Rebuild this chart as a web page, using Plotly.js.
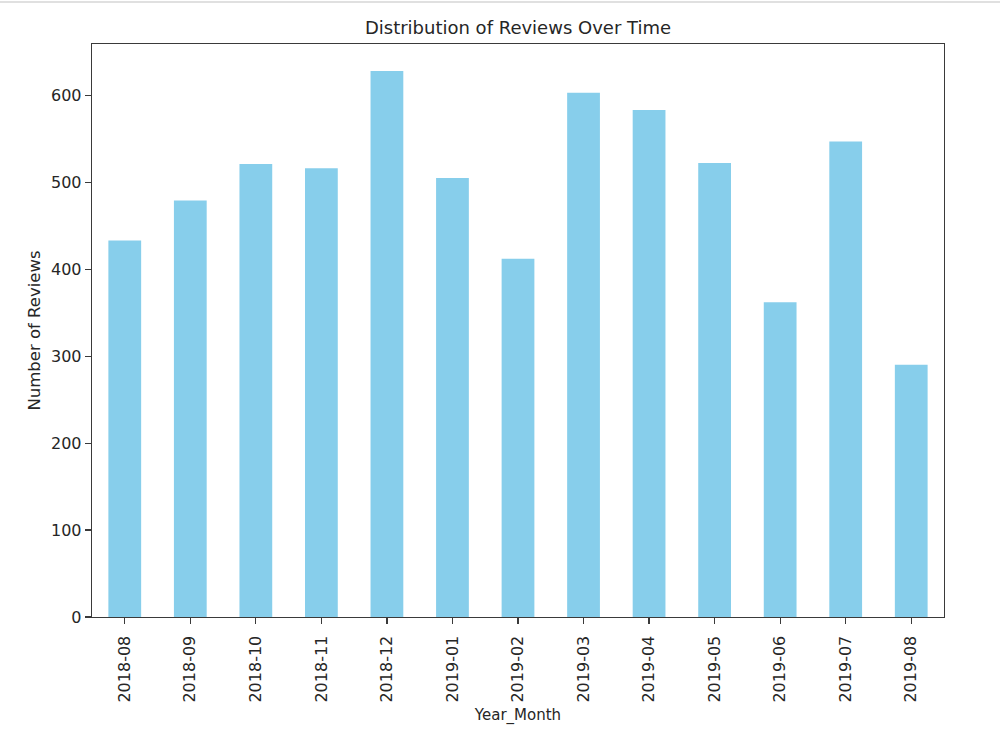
<!DOCTYPE html>
<html>
<head>
<meta charset="utf-8">
<script src="https://cdn.plot.ly/plotly-3.0.1.min.js"></script>
<style>html,body{margin:0;padding:0;background:#fff;}#chart{width:1000px;height:750px;}</style>
</head>
<body>
<div id="chart"></div>
<script>
const categories = ["2018-08","2018-09","2018-10","2018-11","2018-12","2019-01","2019-02","2019-03","2019-04","2019-05","2019-06","2019-07","2019-08"];
const reviewCounts = [433, 479, 521, 516, 628, 505, 412, 603, 583, 522, 362, 547, 290];
const yTicks = [0, 100, 200, 300, 400, 500, 600];

const font = {family: "DejaVu Sans, sans-serif", color: "#262626"};

const trace = {
  type: "bar",
  x: categories,
  y: reviewCounts,
  width: 0.5,
  marker: {color: "#87CEEB", line: {width: 0}},
  hoverinfo: "x+y"
};

const layout = {
  width: 1000, height: 750,
  margin: {l: 92, r: 56, t: 44, b: 133},
  paper_bgcolor: "#fff",
  plot_bgcolor: "#fff",
  showlegend: false,
  font: Object.assign({size: 16}, font),
  title: {
    text: "Distribution of Reviews Over Time",
    font: Object.assign({size: 18}, font),
    x: 0.5, xanchor: "center", xref: "paper",
    y: 1 - 28/750, yanchor: "middle", yref: "container"
  },
  xaxis: {
    type: "category",
    range: [-0.5, 12.5],
    showline: true, mirror: true, linecolor: "#3a3a3a", linewidth: 1.3,
    ticks: "outside", ticklen: 6, tickcolor: "#3a3a3a", tickwidth: 1.2,
    tickangle: -90,
    ticklabelstandoff: 5,
    tickfont: Object.assign({size: 16}, font),
    showgrid: false, zeroline: false,
    automargin: false,
    title: {text: "Year_Month", font: Object.assign({size: 15}, font), standoff: 8}
  },
  yaxis: {
    range: [0, 659],
    tickvals: yTicks,
    ticktext: yTicks.map(String),
    showline: true, mirror: true, linecolor: "#3a3a3a", linewidth: 1.3,
    ticks: "outside", ticklen: 6, tickcolor: "#3a3a3a", tickwidth: 1.2,
    tickfont: Object.assign({size: 16}, font),
    showgrid: false, zeroline: false,
    automargin: false,
    title: {text: "Number of Reviews", font: Object.assign({size: 16.5}, font), standoff: 6}
  },
  shapes: [{
    type: "line", xref: "paper", yref: "paper",
    x0: -0.2, x1: 1.2, y0: 1 + 42/573, y1: 1 + 42/573,
    line: {color: "#e0e0e0", width: 2}
  }]
};

Plotly.newPlot("chart", [trace], layout, {displayModeBar: false, staticPlot: true});
</script>
</body>
</html>
